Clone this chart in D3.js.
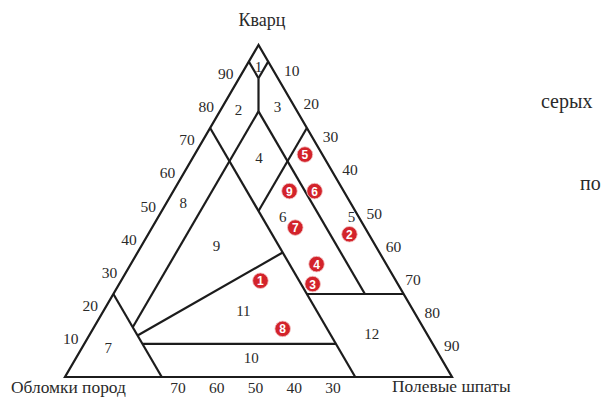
<!DOCTYPE html>
<html>
<head>
<meta charset="utf-8">
<script src="https://cdn.jsdelivr.net/npm/d3@7"></script>
<style>
  html, body { margin: 0; padding: 0; background: #fff; }
  svg { display: block; }
</style>
</head>
<body>
<svg id="chart" width="605" height="400"></svg>
<script>
// Vertex names of the Q–F–R triangle
const vertexQuartz = "Кварц";
const vertexRock = "Обломки пород";
const vertexFeldspar = "Полевые шпаты";

// Axis tick values, %
const quartzTicks = [10, 20, 30, 40, 50, 60, 70, 80, 90];
const feldsparTicks = [10, 20, 30, 40, 50, 60, 70, 80, 90];
const rockTicks = [70, 60, 50, 40, 30];

// Samples: number and composition (quartz, feldspar, rock fragments), %
const sampleIds = [1, 2, 3, 4, 5, 6, 7, 8, 9];
const sampleQ = [29, 43, 28, 34, 67, 56, 45, 14.5, 56];
const sampleF = [36, 52, 50, 48, 28.5, 36.5, 37, 49, 30];
const sampleR = [35, 5, 22, 18, 4.5, 7.5, 18, 36.5, 14];

// Classification field boundaries, each as two [Q, F, R] end points
const boundaries = [
  [[95, 0, 5], [90, 5, 5]],
  [[95, 5, 0], [90, 5, 5]],
  [[90, 5, 5], [80, 10, 10]],
  [[80, 10, 10], [15, 10, 75]],
  [[80, 10, 10], [25, 65, 10]],
  [[75, 0, 25], [0, 75, 25]],
  [[75, 25, 0], [50, 25, 25]],
  [[25, 0, 75], [0, 25, 75]],
  [[37.5, 37.5, 25], [12.5, 12.5, 75]],
  [[10, 15, 75], [10, 65, 25]],
  [[25, 50, 25], [25, 75, 0]]
];

// Field numbers and where each one sits [Q, F, R]
const fieldIds = [1, 2, 3, 4, 5, 6, 7, 8, 9, 10, 11, 12];
const fieldAt = [
  [93.5, 3.25, 3.25], [80.4, 4.6, 15], [81.4, 14.2, 4.4], [65.9, 17.2, 16.9],
  [48.3, 49.9, 1.8], [48.1, 32.2, 19.7], [8.6, 6.9, 84.5], [52.5, 4.3, 43.2],
  [39.5, 19.4, 41.1], [5.6, 45.3, 49.1], [20, 36.1, 43.9], [13, 72.75, 14.25]
];

const svg = d3.select("#chart");
const ink = "#1c1c1c";
const textInk = "#2a2a2a";
const serifFamily = '"Liberation Serif"';

// Linear scales for the ternary projection
const x = d3.scaleLinear().domain([0, 100]).range([65, 452]);
const y = d3.scaleLinear().domain([0, 100]).range([377, 45]);
const project = ([q, f]) => [x(f + q / 2), y(q)];

const line = d3.line();

function serifText(sel, size) {
  return sel
    .style("font-family", serifFamily)
    .style("font-size", size + "px")
    .style("fill", textInk);
}

// Outer triangle
svg.append("path")
  .attr("d", line([[100, 0, 0], [0, 0, 100], [0, 100, 0]].map(project)) + "Z")
  .attr("fill", "none")
  .attr("stroke", ink)
  .attr("stroke-width", 2.2)
  .attr("stroke-linejoin", "miter");

// Field boundaries
svg.append("g").selectAll("path")
  .data(boundaries)
  .join("path")
  .attr("d", d => line(d.map(project)))
  .attr("fill", "none")
  .attr("stroke", ink)
  .attr("stroke-width", 2.2);

// Tick labels along the three sides
const ticks = svg.append("g");
ticks.append("g").selectAll("text")
  .data(quartzTicks)
  .join("text")
  .attr("x", q => project([q, 0])[0] - 13.5)
  .attr("y", q => project([q, 0])[1] - 5)
  .text(d => d);

ticks.append("g").selectAll("text")
  .data(feldsparTicks)
  .join("text")
  .attr("x", f => project([100 - f, f])[0] + (f <= 40 ? 14 : 19))
  .attr("y", f => project([100 - f, f])[1] + (f <= 40 ? -8 : 2))
  .text(d => d);

ticks.append("g").selectAll("text")
  .data(rockTicks)
  .join("text")
  .attr("x", r => project([0, 100 - r])[0] - 3)
  .attr("y", r => project([0, 100 - r])[1] + 10)
  .text(d => d);

serifText(ticks.selectAll("text"), 15.5)
  .attr("text-anchor", "middle")
  .attr("dominant-baseline", "central");

// Field numbers
serifText(svg.append("g").selectAll("text")
  .data(fieldIds)
  .join("text")
  .attr("x", (d, i) => project(fieldAt[i])[0])
  .attr("y", (d, i) => project(fieldAt[i])[1])
  .attr("text-anchor", "middle")
  .attr("dominant-baseline", "central")
  .text(d => d), 15);

// Vertex names
serifText(svg.append("text")
  .attr("x", x(50) + 3.5).attr("y", 26)
  .attr("text-anchor", "middle")
  .text(vertexQuartz), 18);
serifText(svg.append("text")
  .attr("x", 11).attr("y", 393)
  .text(vertexRock), 17.4);
serifText(svg.append("text")
  .attr("x", 392).attr("y", 392)
  .text(vertexFeldspar), 17.4);

// Fragments of the surrounding page text
serifText(svg.append("text").attr("x", 541).attr("y", 108).text("серых"), 20);
serifText(svg.append("text").attr("x", 580).attr("y", 190).text("по"), 20);

// Sample points
const samples = svg.append("g").selectAll("g")
  .data(sampleIds.map((id, i) => ({ id, q: sampleQ[i], f: sampleF[i], r: sampleR[i] })))
  .join("g")
  .attr("transform", d => `translate(${project([d.q, d.f])})`);

samples.append("circle")
  .attr("r", 7.8)
  .attr("fill", "#d3232b")
  .attr("stroke", "#f2c7c7")
  .attr("stroke-width", 0.8);

samples.append("text")
  .attr("text-anchor", "middle")
  .attr("dominant-baseline", "central")
  .attr("y", 0.5)
  .style("font-family", '"Liberation Sans"')
  .style("font-weight", "bold")
  .style("font-size", "12px")
  .style("fill", "#fff")
  .text(d => d.id);
</script>
</body>
</html>
